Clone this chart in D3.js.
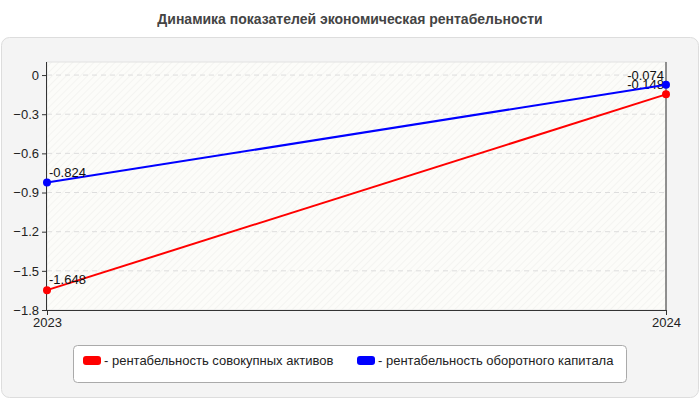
<!DOCTYPE html>
<html><head><meta charset="utf-8">
<script src="https://cdn.jsdelivr.net/npm/d3@7"></script>
<style>body{margin:0;background:#fff;font-family:Arial,"Liberation Sans",sans-serif}</style>
</head><body><svg id="c" width="700" height="400"></svg>
<script>
const years = ["2023", "2024"];
const assets = [-1.648, -0.148];
const working = [-0.824, -0.074];
const yTicks = [0, -0.3, -0.6, -0.9, -1.2, -1.5, -1.8];
const seriesNames = ["- рентабельность совокупных активов", "- рентабельность оборотного капитала"];
const colors = ["#ff0000", "#0000ff"];

const svg = d3.select("#c");
const defs = svg.append("defs");
const pat = defs.append("pattern").attr("id", "hatch").attr("width", 5).attr("height", 5)
  .attr("patternUnits", "userSpaceOnUse").attr("patternTransform", "rotate(45)");
pat.append("rect").attr("width", 5).attr("height", 5).attr("fill", "#fcfcf9");
pat.append("line").attr("x1", 0).attr("y1", 0).attr("x2", 0).attr("y2", 5).attr("stroke", "#efefed").attr("stroke-width", 1.2);

svg.append("text").attr("x", 350).attr("y", 24).attr("text-anchor", "middle")
  .attr("font-size", 14).attr("font-weight", "bold").attr("fill", "#444")
  .text("Динамика показателей экономическая рентабельности");

svg.append("rect").attr("x", 1.5).attr("y", 37.5).attr("width", 697).attr("height", 360).attr("rx", 8)
  .attr("fill", "#f4f4f4").attr("stroke", "#dddddd");

const x = d3.scalePoint().domain(years).range([47, 666]);
const y = d3.scaleLinear().domain([-1.8, 0.1]).range([310, 62]);

svg.append("rect").attr("x", 47).attr("y", 62).attr("width", 619).attr("height", 248)
  .attr("fill", "url(#hatch)").attr("stroke", "#e2e2e2");

svg.append("g").selectAll("line").data(yTicks.filter(d => d !== -1.8)).join("line")
  .attr("x1", 47).attr("x2", 666).attr("y1", d => y(d)).attr("y2", d => y(d))
  .attr("stroke", "#dddddd").attr("stroke-dasharray", "5,4");

const ya = svg.append("g").attr("transform", "translate(47,0)")
  .call(d3.axisLeft(y).tickValues(yTicks).tickSize(5).tickFormat(d => d === 0 ? "0" : d3.format(".1f")(d)));
ya.select(".domain").attr("d", `M-0.5,62V310.5`).attr("stroke", "#333");
ya.selectAll("text").attr("font-size", 13).attr("fill", "#222").attr("font-family", "Arial,sans-serif");
ya.selectAll(".tick line").attr("stroke", "#333");

const xa = svg.append("g").attr("transform", "translate(0,310)")
  .call(d3.axisBottom(x).tickSize(5));
xa.select(".domain").attr("d", "M47,0.5H666").attr("stroke", "#333");
xa.selectAll("text").attr("font-size", 13).attr("fill", "#222").attr("font-family", "Arial,sans-serif").attr("dy", "0.7em");
xa.selectAll(".tick line").attr("stroke", "#333");
svg.append("line").attr("x1", 666).attr("x2", 666).attr("y1", 62).attr("y2", 310).attr("stroke", "#333");

const line = d3.line().x((d, i) => x(years[i])).y(d => y(d));
[assets, working].forEach((s, k) => {
  svg.append("path").datum(s).attr("d", line).attr("fill", "none").attr("stroke", colors[k]).attr("stroke-width", 2);
  svg.append("g").selectAll("circle").data(s).join("circle")
    .attr("cx", (d, i) => x(years[i])).attr("cy", d => y(d)).attr("r", 4).attr("fill", colors[k]);
  svg.append("g").selectAll("text").data(s).join("text")
    .attr("x", (d, i) => i === 0 ? x(years[i]) + 2 : x(years[i]) - 2)
    .attr("y", (d, i) => y(d) - (i === 0 ? 6 : 5))
    .attr("text-anchor", (d, i) => i === 0 ? "start" : "end")
    .attr("font-size", 13).attr("fill", "#111").text(d => d);
});

svg.append("rect").attr("x", 73.5).attr("y", 345.5).attr("width", 553).attr("height", 37).attr("rx", 4)
  .attr("fill", "#fff").attr("stroke", "#aaa");
const lx = [83, 357];
seriesNames.forEach((n, k) => {
  svg.append("rect").attr("x", lx[k]).attr("y", 356).attr("width", 18).attr("height", 9).attr("rx", 3).attr("fill", colors[k]);
  svg.append("text").attr("x", lx[k] + 21).attr("y", 365).attr("font-size", 13).attr("fill", "#222").text(n);
});
</script></body></html>
